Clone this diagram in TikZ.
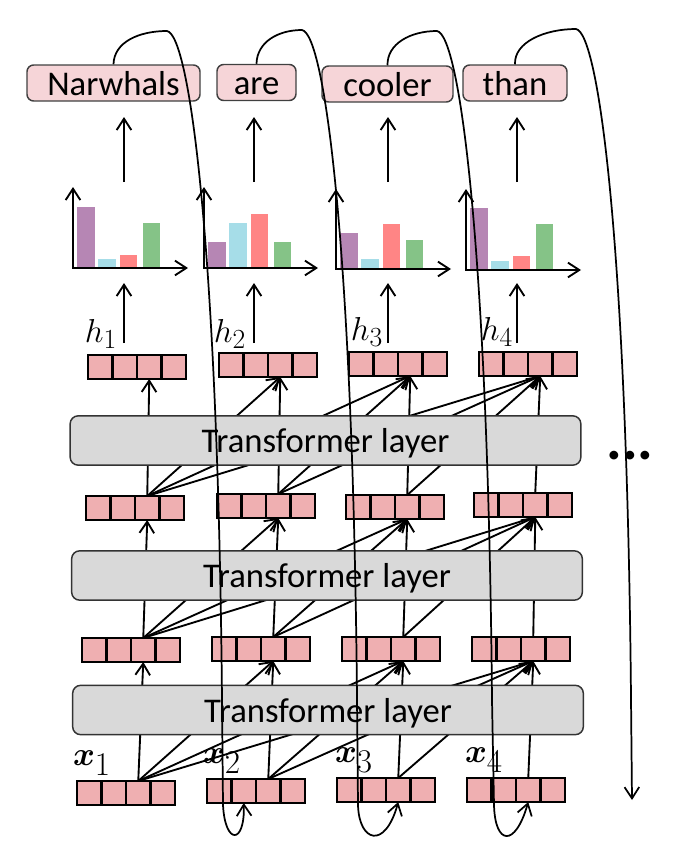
\documentclass[tikz,border=0pt]{standalone}
\usepackage{fontspec}
\setmainfont{Carlito}
\usepackage{amsmath}
\usepackage{bm}
\usetikzlibrary{arrows.meta,calc}
\definecolor{cellpink}{HTML}{EFAFB1}
\definecolor{wordpink}{HTML}{F6D5D8}
\definecolor{tlgray}{HTML}{D9D9D9}
\definecolor{barP}{HTML}{B686B4}
\definecolor{barC}{HTML}{A6DDE8}
\definecolor{barR}{HTML}{FF8585}
\definecolor{barG}{HTML}{85C387}
\tikzset{
  tip/.style={-{Straight Barb[length=8.5pt,width=11pt]}},
  conn/.style={line width=1.4pt, tip},
  vec/.style={draw, line width=1.4pt, fill=cellpink, minimum width=73.5pt, minimum height=18pt,
    inner sep=0pt, outer sep=0pt, anchor=north west},
  divider/.style={line width=1.7pt},
  tl/.style={draw=black!80, line width=1.1pt, fill=tlgray, rounded corners=6pt,
    minimum width=383pt, minimum height=37pt, inner sep=0pt, text height=20pt, text depth=2pt,
    font=\fontsize{26}{30}\selectfont},
  word/.style={draw=black!75, line width=1.1pt, fill=wordpink, rounded corners=5pt,
    minimum height=27pt, inner sep=0pt, text height=20pt, text depth=2pt,
    font=\fontsize{26}{30}\selectfont},
  axis/.style={line width=1.4pt, {Straight Barb[length=8.5pt,width=11pt]}-{Straight Barb[length=8.5pt,width=11pt]}},
  curve/.style={line width=1.3pt},
  lab/.style={inner sep=0pt, font=\fontsize{31}{34}\selectfont},
  xlab/.style={inner sep=0pt, font=\fontsize{34}{36}\selectfont},
}
\begin{document}
\begin{tikzpicture}[x=0.75pt,y=-0.75pt]
\useasboundingbox (0,0) rectangle (676,853);

% coordinates of cell-3 top/bottom of each vector
\foreach \r/\x/\y in {x1/77/781,x2/207/779,x3/337/778,x4/467/778,
                      r1/82/638,r2/212/637,r3/342/637,r4/472/637,
                      s1/86/496,s2/217/494,s3/346/495,s4/474/493,
                      h1/88/355,h2/219/353,h3/349/352,h4/479/352}{
  \coordinate (\r nw) at (\x,\y);
  \coordinate (\r t) at (\x+61.25,\y);
  \coordinate (\r b) at (\x+61.25,\y+24);
}

% fan connections (hidden behind the transformer layers)
\foreach \A/\B in {x/r,r/s,s/h}{
  \foreach \i in {1,...,4}{
    \foreach \j in {\i,...,4}{
      \draw[conn] (\A\i t) -- (\B\j b);
    }
  }
}

% transformer layers
\node[tl] (L1) at (328,710) {Transformer layer};
\node[tl] (L2) at (327,575.5) {Transformer layer};
\node[tl] (L3) at (325.5,440.5) {Transformer layer};

% vectors
\foreach \r in {x1,x2,x3,x4,r1,r2,r3,r4,s1,s2,s3,s4,h1,h2,h3,h4}{
  \node[vec] (\r) at (\r nw) {};
  \foreach \k in {0.25,0.5,0.75}{
    \draw[divider] ($(\r.north west)!\k!(\r.north east)$) -- ($(\r.south west)!\k!(\r.south east)$);
  }
}
\coordinate (x2c2) at ($(x2.south west)!0.375!(x2.south east)$);

% labels
\node[lab] (lh1) at (101,334) {$h_1$};
\node[lab] (lh2) at (230,334) {$h_2$};
\node[lab] (lh3) at (367,332) {$h_3$};
\node[lab] (lh4) at (497,332) {$h_4$};
\node[xlab] (lx1) at (92,763) {$\bm{x}_1$};
\node[xlab] (lx2) at (222,761) {$\bm{x}_2$};
\node[xlab] (lx3) at (354,760) {$\bm{x}_3$};
\node[xlab] (lx4) at (484,760) {$\bm{x}_4$};

% charts
\foreach \c/\ox/\oy/\xt/\yt/\ha/\hb/\hc/\hd/\cx in {
   1/73/268/188/187/61/9/13/45/124,
   2/204/268/318/187/26/45/54/26/254,
   3/336/269/451/189/36/10/45/29/388,
   4/466/270/581/189/62/9/14/46/517}{
  \fill[barP] (\ox+4,\oy) rectangle (\ox+21.5,\oy-\ha);
  \fill[barC] (\ox+25,\oy) rectangle (\ox+42.5,\oy-\hb);
  \fill[barR] (\ox+46.5,\oy) rectangle (\ox+64,\oy-\hc);
  \fill[barG] (\ox+69.5,\oy) rectangle (\ox+87,\oy-\hd);
  \coordinate (o\c) at (\ox,\oy);
  \coordinate (yt\c) at (\ox,\yt);
  \coordinate (xt\c) at (\xt,\oy);
  \draw[axis] (yt\c) -- (o\c) -- (xt\c);
  \coordinate (ha\c) at (\cx,343);
  \coordinate (hb\c) at (\cx,283);
  \coordinate (ca\c) at (\cx,182);
  \coordinate (cb\c) at (\cx,117);
  \draw[conn] (ha\c) -- (hb\c);
  \draw[conn] (ca\c) -- (cb\c);
}

% words
\node[word, minimum width=129.75pt] (w1) at (113.5,83) {Narwhals};
\node[word, minimum width=59.25pt] (w2) at (256.5,82.5) {are};
\node[word, minimum width=98.25pt] (w3) at (387.5,84) {cooler};
\node[word, minimum width=78pt] (w4) at (515,83) {than};

% feedback curves
\coordinate (tend) at (632,800);
\draw[curve, tip] (w1.north) .. controls (114,42) and (139,31) .. (167,31)
  .. controls (190,35) and (218,250) .. (222,700) -- (223,805)
  .. controls (225,845) and (245,845) .. (x2c2);
\draw[curve, tip] (w2.north) .. controls (257,42) and (278,30) .. (302,30)
  .. controls (325,34) and (353,249) .. (357,699) -- (358,805)
  .. controls (359,842) and (385,850) .. (x3b);
\draw[curve, tip] (w3.north) .. controls (387,44) and (410,31) .. (437,31)
  .. controls (460,35) and (488,250) .. (492,700) -- (494,805)
  .. controls (495,845) and (515,848) .. (x4b);
\draw[curve, tip] (w4.north) .. controls (514,42) and (545,29) .. (576,29)
  .. controls (599,33) and (627,248) .. (631,698) -- (tend);

% continuation dots
\node[inner sep=0pt, font=\fontsize{44}{44}\selectfont\bfseries] (dots) at (630,456) {...};
\end{tikzpicture}
\end{document}
